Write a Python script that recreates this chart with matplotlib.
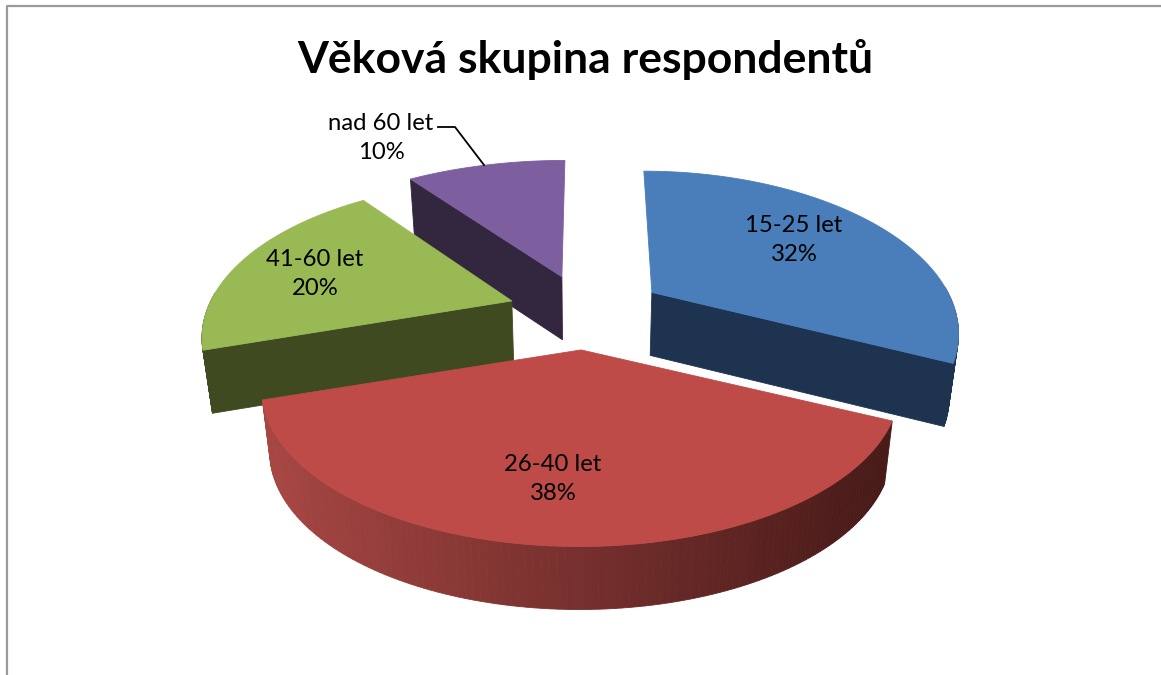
import numpy as np
import matplotlib
matplotlib.use('Agg')
import matplotlib.pyplot as plt
import matplotlib.colors as mcolors
from matplotlib.patches import Polygon

labels = ['15-25 let', '26-40 let', '41-60 let', 'nad 60 let']
shares = [32, 38, 20, 10]
title = 'Věková skupina respondentů'

top_colors = ['#4a7ebb', '#be4b48', '#98b954', '#7d5fa0']
side_colors = ['#1d3350', '#6d2a28', '#3f4a20', '#33273f']

# pie geometry in picture pixels
cx, cy = 586, 312.5
slice_rx = [296, 310, 301, 312]
slice_ry = [150, 150, 148, 144]
slice_lean = [-8, 2, 0, 3]
persp = 0.237
explode = 0.25
depth = 63
shrink = 0.975

plt.rcParams['font.family'] = ['Lato', 'DejaVu Sans']
fig = plt.figure(figsize=(11.61, 6.75), dpi=100)
ax = fig.add_axes([0, 0, 1, 1])
ax.set_xlim(0, 1161)
ax.set_ylim(675, 0)
ax.axis('off')


def project(i, off, u, v, low=False):
    # offset stays flat, perspective only works inside the slice
    s = 1 / (1 + persp * v)
    x = off[0] * 312 + slice_rx[i] * u * s + slice_lean[i] * v
    y = -off[1] * 150 - slice_ry[i] * v * s
    if low:
        x = x * shrink
        y = y + depth
    return cx + x, cy + y


def rim(i, a0, a1, off, low=False):
    t = np.radians(np.linspace(a0, a1, 120))
    return project(i, off, np.sin(t), np.cos(t), low)


def red_wall(x):
    # horizontal shading on the front of the big slice
    c0 = np.array(mcolors.to_rgb('#a84744'))
    c1 = np.array(mcolors.to_rgb('#471a18'))
    f = np.clip((x - 258) / (888 - 258), 0, 1)
    return c0 + (c1 - c0) * f


def draw_slice(i, a0, a1):
    mid = np.radians((a0 + a1) / 2)
    off = (explode * np.sin(mid), explode * np.cos(mid))

    # outer wall, front part only
    ang = np.linspace(a0, a1, 120)
    xt, yt = rim(i, a0, a1, off)
    xb, yb = rim(i, a0, a1, off, True)
    for k in range(len(xt) - 1):
        if np.cos(np.radians(ang[k])) > 0.05:
            continue
        col = red_wall(xt[k]) if i == 1 else side_colors[i]
        q = [(xt[k], yt[k]), (xt[k + 1], yt[k + 1]), (xb[k + 1], yb[k + 1]), (xb[k], yb[k])]
        ax.add_patch(Polygon(q, closed=True, fc=col, ec=col, lw=0.6, zorder=i_order[i]))

    # straight cut faces that look to the viewer
    for a, normal in ((a0, a0 - 90), (a1, a1 + 90)):
        if np.cos(np.radians(normal)) < -1e-6:
            t = np.radians(a)
            p0 = project(i, off, 0, 0)
            p1 = project(i, off, np.sin(t), np.cos(t))
            p2 = project(i, off, np.sin(t), np.cos(t), True)
            p3 = project(i, off, 0, 0, True)
            ax.add_patch(Polygon([p0, p1, p2, p3], closed=True, fc=side_colors[i],
                                 ec=side_colors[i], lw=0.6, zorder=i_order[i]))

    # top face
    ax_, ay_ = project(i, off, 0, 0)
    ax.add_patch(Polygon(np.column_stack([np.r_[ax_, xt], np.r_[ay_, yt]]), closed=True,
                         fc=top_colors[i], ec=top_colors[i], lw=0.6, zorder=i_order[i] + 0.5))


# back to front
i_order = {3: 1, 2: 2, 0: 3, 1: 4}
edges = np.r_[0, np.cumsum(shares)] * 3.6
for i in range(len(shares)):
    draw_slice(i, edges[i], edges[i + 1])

# labels
lab_pos = [(794, 240), (553, 479), (315, 274), (381, 138)]
for name, val, (lx, ly) in zip(labels, shares, lab_pos):
    ax.text(lx, ly, '%s\n%d%%' % (name, val), ha='center', va='center', fontsize=17.2,
            color='black', linespacing=1.5, zorder=10)
ax.plot([438, 455, 484], [127, 127, 165], color='black', lw=1.3, zorder=10)

ax.text(585, 59, title, ha='center', va='center', fontsize=32, fontweight='bold',
        color='black', zorder=10)

# chart frame, only top and left show
ax.plot([6.5, 6.5, 1161], [675, 5.5, 5.5], color='#9a9a9a', lw=1.6, zorder=0.5)

fig.savefig('out.png', dpi=100)
